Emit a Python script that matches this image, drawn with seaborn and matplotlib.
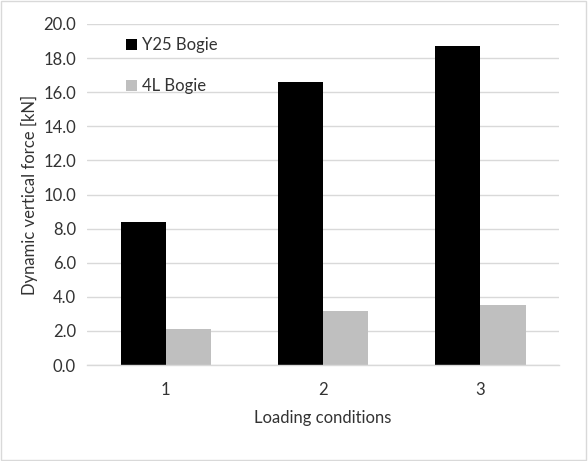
import numpy as np
import matplotlib
matplotlib.use("Agg")
import matplotlib.pyplot as plt
import seaborn as sns
import pandas as pd

# data
conditions = ["1", "2", "3"]
y25_bogie = [8.4, 16.6, 18.7]
l4_bogie = [2.1, 3.2, 3.5]
series_names = ["Y25 Bogie", "4L Bogie"]
y_ticks = np.arange(0, 20.1, 2)

sns.set_style("white")
plt.rcParams["font.family"] = ["Lato", "DejaVu Sans"]

df = pd.DataFrame({
    "Loading conditions": conditions * 2,
    "force": y25_bogie + l4_bogie,
    "series": [series_names[0]] * 3 + [series_names[1]] * 3,
})

fig = plt.figure(figsize=(5.88, 4.61), dpi=100)
ax = fig.add_axes([0.148, 0.208, 0.803, 0.740])

sns.barplot(data=df, x="Loading conditions", y="force", hue="series",
            palette=["#000000", "#bfbfbf"], width=0.572, gap=0,
            saturation=1, ax=ax, linewidth=0)

ax.set_ylim(0, 20)
ax.set_xlim(-0.5, 2.5)
ax.set_yticks(y_ticks)
ax.set_yticklabels([f"{v:.1f}" for v in y_ticks])
ax.yaxis.grid(True, color="#d9d9d9", linewidth=1)
ax.set_axisbelow(True)
for s in ["top", "left", "right"]:
    ax.spines[s].set_visible(False)
ax.spines["bottom"].set_color("#d9d9d9")
ax.spines["bottom"].set_linewidth(1)
ax.tick_params(axis="both", length=0, labelsize=12, colors="#333333", pad=8)
ax.tick_params(axis="x", pad=12)
ax.set_xlabel("Loading conditions", fontsize=12, color="#333333", labelpad=9)
ax.set_ylabel("Dynamic vertical force [kN]", fontsize=12, color="#333333", labelpad=4)

leg = ax.legend(loc="upper left", bbox_to_anchor=(0.05, 1.005), frameon=False,
                fontsize=12, labelspacing=1.5, handlelength=0.7, handleheight=0.7,
                handletextpad=0.3, labelcolor="#333333")

fig.patches.append(plt.Rectangle((0.002, 0.002), 0.995, 0.995, transform=fig.transFigure,
                                 fill=False, edgecolor="#d9d9d9", linewidth=1))

fig.savefig("out.png", dpi=100)
